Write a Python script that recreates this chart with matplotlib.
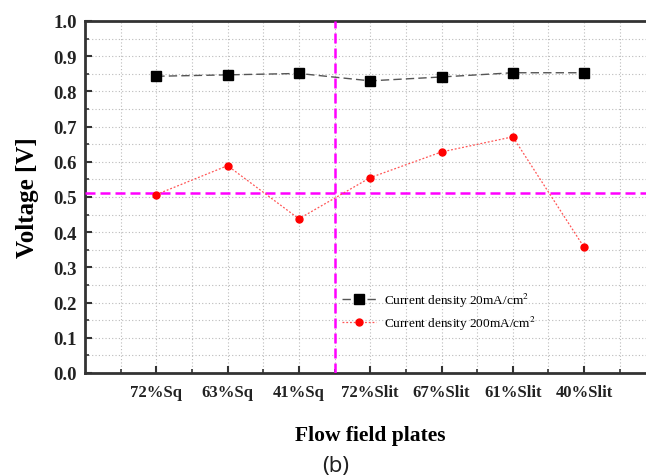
import matplotlib
matplotlib.use("Agg")
import matplotlib.pyplot as plt
from matplotlib.ticker import MultipleLocator

categories = ["72%Sq", "63%Sq", "41%Sq", "72%Slit", "67%Slit", "61%Slit", "40%Slit"]
v_20 = [0.843, 0.847, 0.851, 0.830, 0.841, 0.853, 0.853]
v_200 = [0.507, 0.589, 0.438, 0.555, 0.628, 0.671, 0.357]
label_20 = "Current density 20mA/cm$^2$"
label_200 = "Current density 200mA/cm$^2$"
hline_y = 0.51
vline_x = 3.5

plt.rcParams['font.family'] = ['Liberation Serif', 'DejaVu Serif']
plt.rcParams['mathtext.fontset'] = 'stix'

fig = plt.figure(figsize=(6.46, 4.77), dpi=100)
ax = fig.add_axes([85/646, 1-374/477, 8*71.3/646, (374-22)/477])

x = list(range(1, len(categories)+1))
ax.plot(x, v_20, color='#555555', linestyle=(0, (6, 3)), linewidth=1.0,
        marker='s', markersize=6.5, markerfacecolor='black', markeredgecolor='black',
        label=label_20, zorder=4)
ax.plot(x, v_200, color='#ff5555', linestyle=(0, (1.5, 1.5)), linewidth=0.9,
        marker='o', markersize=5, markerfacecolor='red', markeredgecolor='red',
        label=label_200, zorder=4)

ax.axhline(hline_y, color='#ff00ff', linestyle=(0, (4, 2)), linewidth=1.8, zorder=3)
ax.axvline(vline_x, color='#ff00ff', linestyle=(0, (4, 2)), linewidth=1.8, zorder=3)

ax.set_xlim(0, 8)
ax.set_ylim(0, 1.0)
ax.set_xticks(x)
ax.set_xticklabels(categories, fontweight='bold', fontsize=12)
ax.set_xticks([i + 0.5 for i in range(0, 8)], minor=True)
ax.yaxis.set_major_locator(MultipleLocator(0.1))
ax.yaxis.set_minor_locator(MultipleLocator(0.05))
ax.set_yticklabels([f"{v:.1f}" for v in ax.get_yticks()], fontweight='bold', fontsize=13.5)
ax.tick_params(axis='both', which='major', direction='in', length=5, width=1.5, colors='#333333', labelcolor='#222222')
ax.tick_params(axis='both', which='minor', direction='in', length=3, width=1.2, colors='#333333')
ax.tick_params(axis='x', pad=8)
ax.tick_params(axis='y', pad=6)

ax.grid(True, which='both', color='#bbbbbb', linestyle=(0, (1, 2)), linewidth=0.8)
ax.set_axisbelow(True)
for s in ax.spines.values():
    s.set_linewidth(2)
    s.set_color('#333333')

ax.set_ylabel("Voltage [V]", fontweight='bold', fontsize=18, labelpad=10)
ax.set_xlabel("Flow field plates", fontweight='bold', fontsize=15.5, labelpad=18)

leg = ax.legend(loc='upper left', bbox_to_anchor=(0.43, 0.268), frameon=False,
                fontsize=9.5, handlelength=2.6, labelspacing=0.4, handletextpad=0.6)

fig.text(336/646, 1-467/477, "(b)", ha='center', va='center', fontsize=16,
         family='Noto Sans', color='#222222')

fig.savefig("out.png", dpi=100)
